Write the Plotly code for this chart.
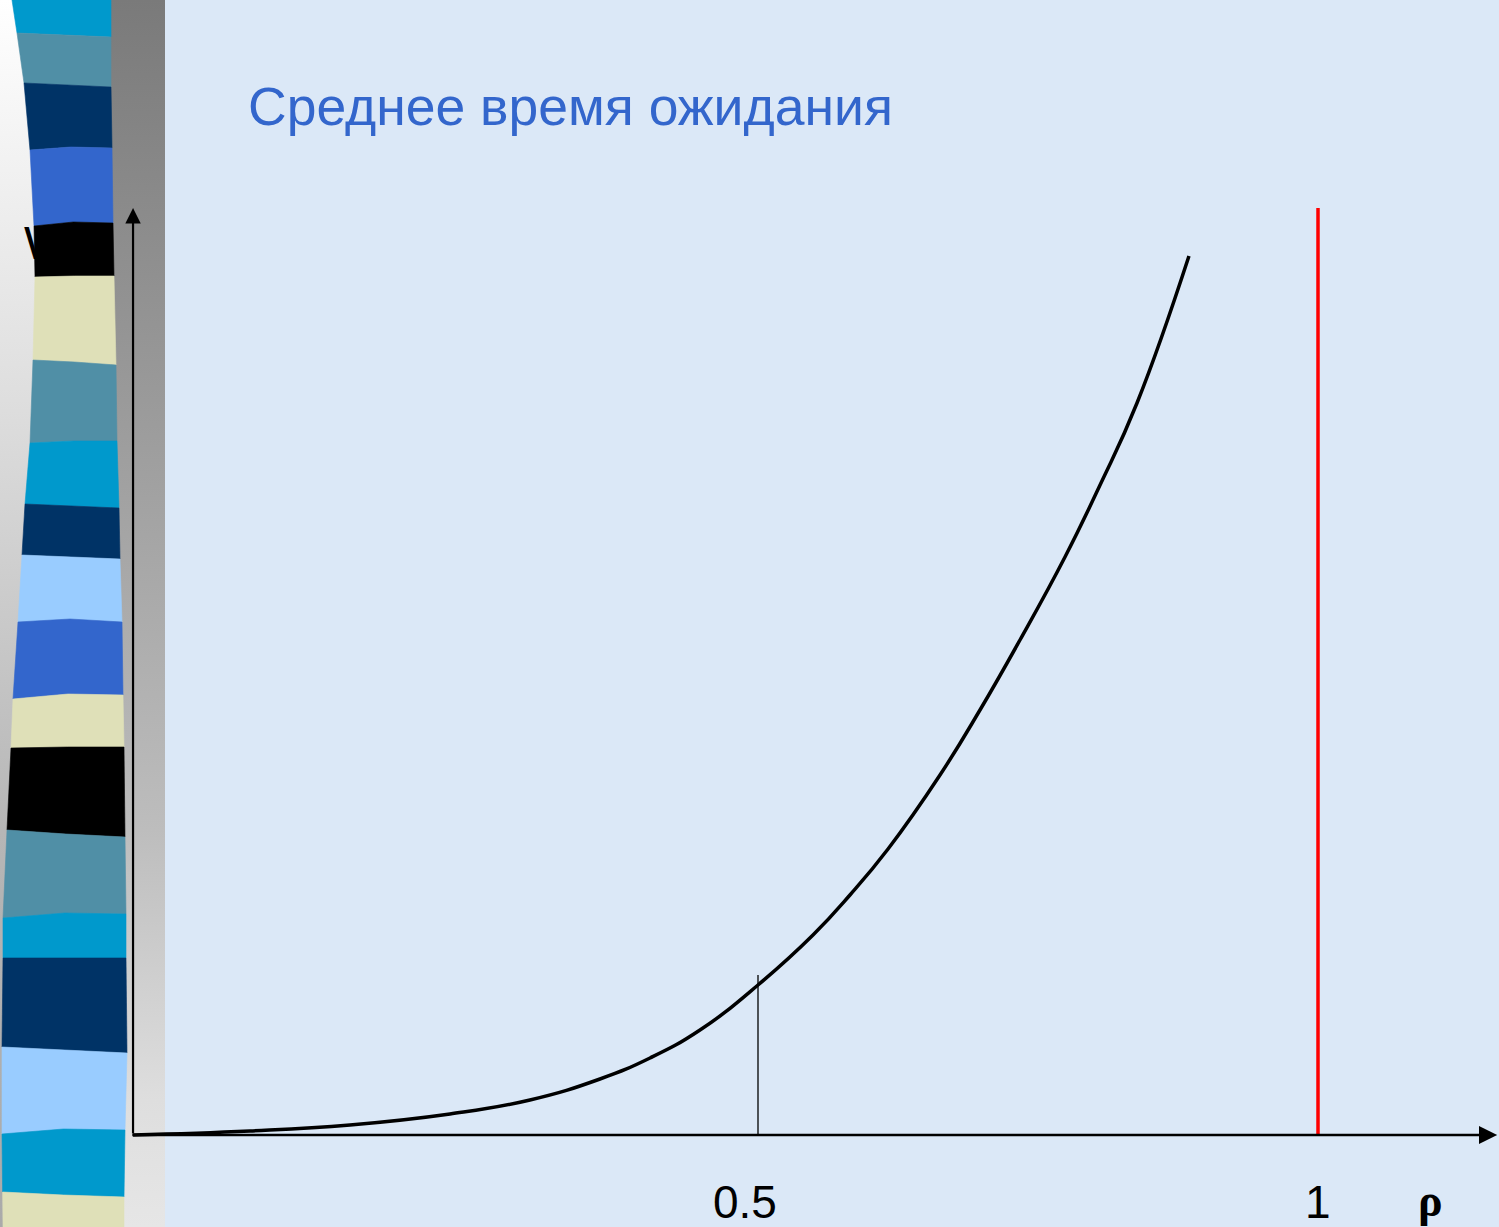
import numpy as np
import plotly.graph_objects as go

# ---- data -------------------------------------------------------------
# load factor rho and mean waiting time W (arbitrary units)
rho = [-0.058, 0.0464, 0.1357, 0.2250, 0.2964, 0.3589, 0.4036, 0.4482, 0.500,
       0.5491, 0.5821, 0.6161, 0.6625, 0.6982, 0.7339, 0.7741, 0.8054, 0.8384, 0.8848]
wait_time = [0.0, 0.04, 0.10, 0.21, 0.35, 0.56, 0.77, 1.05, 1.50,
             2.00, 2.40, 2.86, 3.60, 4.25, 4.95, 5.78, 6.50, 7.32, 8.79]

tick_values = [0.5, 1.0]
tick_labels = ["0.5", "1"]
half_marker_top = 1.60      # height of the marker line at rho = 0.5
rho_limit = 1.0             # asymptote
axis_top = 9.27
axis_origin = -0.058
axis_end = 1.16

title_text = "Среднее время ожидания"
y_label = "W"
x_label = "ρ"

# ---- canvas geometry --------------------------------------------------
W_PX, H_PX = 1499, 1227
X_RANGE = [-0.17679, 1.16161]
Y_RANGE = [-0.92, 11.35]


def dx(px):
    """pixel column -> x data"""
    return X_RANGE[0] + px / W_PX * (X_RANGE[1] - X_RANGE[0])


def dy(py):
    """pixel row (from top) -> y data"""
    return Y_RANGE[1] - py / H_PX * (Y_RANGE[1] - Y_RANGE[0])


fig = go.Figure()


def gradient_column(x0, x1, stops):
    """vertical grey gradient column; stops are (pixel row, colour)"""
    scale = sorted([(1 - p / H_PX, c) for p, c in stops])
    fig.add_trace(go.Scatter(
        x=[dx(x0), dx(x1), dx(x1), dx(x0), dx(x0)],
        y=[dy(0), dy(0), dy(H_PX), dy(H_PX), dy(0)],
        mode="lines", fill="toself", line=dict(width=0),
        fillgradient=dict(type="vertical", colorscale=[[s, c] for s, c in scale],
                          start=dy(H_PX), stop=dy(0)),
        hoverinfo="skip", showlegend=False))


# pale margin on the far left and the grey side bar
gradient_column(0, 112, [(0, "#ffffff"), (400, "#dedede"), (830, "#b6b6b6"), (1227, "#aaaaaa")])
gradient_column(111, 165, [(0, "#7a7a7a"), (400, "#9a9a9a"), (830, "#bdbdbd"),
                           (1100, "#dedede"), (1227, "#e6e6e6")])

# axis letter, partly tucked behind the stripes
fig.add_trace(go.Scatter(
    x=[dx(24)], y=[dy(247)], mode="text", text=[y_label],
    textposition="middle right",
    textfont=dict(family="Liberation Sans, Arial, sans-serif", size=47, color="#000000"),
    hoverinfo="skip", showlegend=False))

# decorative striped ribbon
left_edge_y = [0, 33, 83, 150, 226, 277, 360, 443, 504, 555, 622, 699, 748, 830, 918, 958, 1047, 1134, 1227]
left_edge_x = [12, 17, 24, 30, 34, 35, 33, 30, 25, 22, 18, 13, 11, 7, 3, 3, 2, 2, 3]
right_edge_y = [0, 87, 148, 223, 276, 365, 441, 508, 559, 622, 695, 747, 837, 914, 958, 1053, 1130, 1197, 1227]
right_edge_x = [111, 111, 112, 113, 114, 116, 117, 119, 120, 122, 123, 124, 125, 126, 126, 127, 125, 124, 124]

CYAN, TEAL, NAVY, ROYAL = "#0099CC", "#508FA6", "#003366", "#3366CC"
BLACK, BEIGE, SKY = "#000000", "#DFE0B8", "#99CCFF"
stripe_colors = [CYAN, TEAL, NAVY, ROYAL, BLACK, BEIGE, TEAL, CYAN, NAVY, SKY,
                 ROYAL, BEIGE, BLACK, TEAL, CYAN, NAVY, SKY, CYAN, BEIGE]
stripe_bounds = [(-6, -6, -6), (33, 35, 37), (83, 85, 87), (150, 147, 148),
                 (226, 222, 223), (277, 276, 276), (360, 362, 365), (443, 441, 441),
                 (504, 506, 508), (555, 557, 559), (622, 619, 622), (699, 694, 695),
                 (748, 747, 747), (830, 834, 837), (918, 913, 914), (958, 958, 958),
                 (1047, 1050, 1053), (1134, 1129, 1130), (1192, 1195, 1197),
                 (1234, 1234, 1234)]


def xl(y):
    return float(np.interp(y, left_edge_y, left_edge_x))


def xr(y):
    return float(np.interp(y, right_edge_y, right_edge_x))


for i, col in enumerate(stripe_colors):
    tl, tm, tr = stripe_bounds[i]
    bl, bm, br = stripe_bounds[i + 1]
    pts = [(xl(tl), tl), ((xl(tm) + xr(tm)) / 2, tm), (xr(tr), tr)]
    pts += [(x, y) for y, x in zip(right_edge_y, right_edge_x) if tr < y < br]
    pts += [(xr(br), br), ((xl(bm) + xr(bm)) / 2, bm), (xl(bl), bl)]
    pts += [(x, y) for y, x in reversed(list(zip(left_edge_y, left_edge_x))) if tl < y < bl]
    pts.append(pts[0])
    fig.add_trace(go.Scatter(
        x=[dx(p[0]) for p in pts], y=[dy(p[1]) for p in pts],
        mode="lines", fill="toself", fillcolor=col,
        line=dict(width=0.6, color=col), hoverinfo="skip", showlegend=False))

# asymptote at rho = 1
fig.add_trace(go.Scatter(
    x=[rho_limit, rho_limit], y=[0, axis_top], mode="lines",
    line=dict(color="#FF0000", width=3.5), hoverinfo="skip", showlegend=False))

# marker line at rho = 0.5
fig.add_trace(go.Scatter(
    x=[tick_values[0], tick_values[0]], y=[0, half_marker_top], mode="lines",
    line=dict(color="#000000", width=1.3), hoverinfo="skip", showlegend=False))

# waiting-time curve
fig.add_trace(go.Scatter(
    x=rho, y=wait_time, mode="lines",
    line=dict(color="#000000", width=3.5, shape="spline", smoothing=1.3),
    showlegend=False))

annotations = [
    # axes with arrowheads
    dict(x=axis_origin, y=axis_top, ax=axis_origin, ay=0, xref="x", yref="y",
         axref="x", ayref="y", showarrow=True, arrowhead=2, arrowsize=1.4,
         arrowwidth=2.2, arrowcolor="#000000", text="", standoff=0, startstandoff=0),
    dict(x=axis_end, y=0, ax=axis_origin - 0.002, ay=0, xref="x", yref="y",
         axref="x", ayref="y", showarrow=True, arrowhead=2, arrowsize=1.4,
         arrowwidth=2.6, arrowcolor="#000000", text="", standoff=0, startstandoff=0),
    # title
    dict(x=dx(246), y=dy(106), xref="x", yref="y", xanchor="left", yanchor="middle",
         text=title_text, showarrow=False,
         font=dict(family="Liberation Sans, Arial, sans-serif", size=53.5, color="#3366CC")),
    # axis name
    dict(x=dx(1430), y=dy(1200), xref="x", yref="y", xanchor="center", yanchor="middle",
         text="<b>%s</b>" % x_label, showarrow=False,
         font=dict(family="Liberation Serif, Times New Roman, serif", size=46, color="#000000")),
]
for v, lab in zip(tick_values, tick_labels):
    annotations.append(dict(
        x=v - (0.012 if lab == "0.5" else 0.0), y=dy(1202), xref="x", yref="y",
        xanchor="center", yanchor="middle", text=lab, showarrow=False,
        font=dict(family="Liberation Sans, Arial, sans-serif", size=46, color="#000000")))

fig.update_layout(
    width=W_PX, height=H_PX,
    margin=dict(l=0, r=0, t=0, b=0),
    paper_bgcolor="#dbe8f7", plot_bgcolor="#dbe8f7",
    xaxis=dict(range=X_RANGE, visible=False, fixedrange=True),
    yaxis=dict(range=Y_RANGE, visible=False, fixedrange=True),
    annotations=annotations,
    showlegend=False,
)

fig.write_html("out.html")
